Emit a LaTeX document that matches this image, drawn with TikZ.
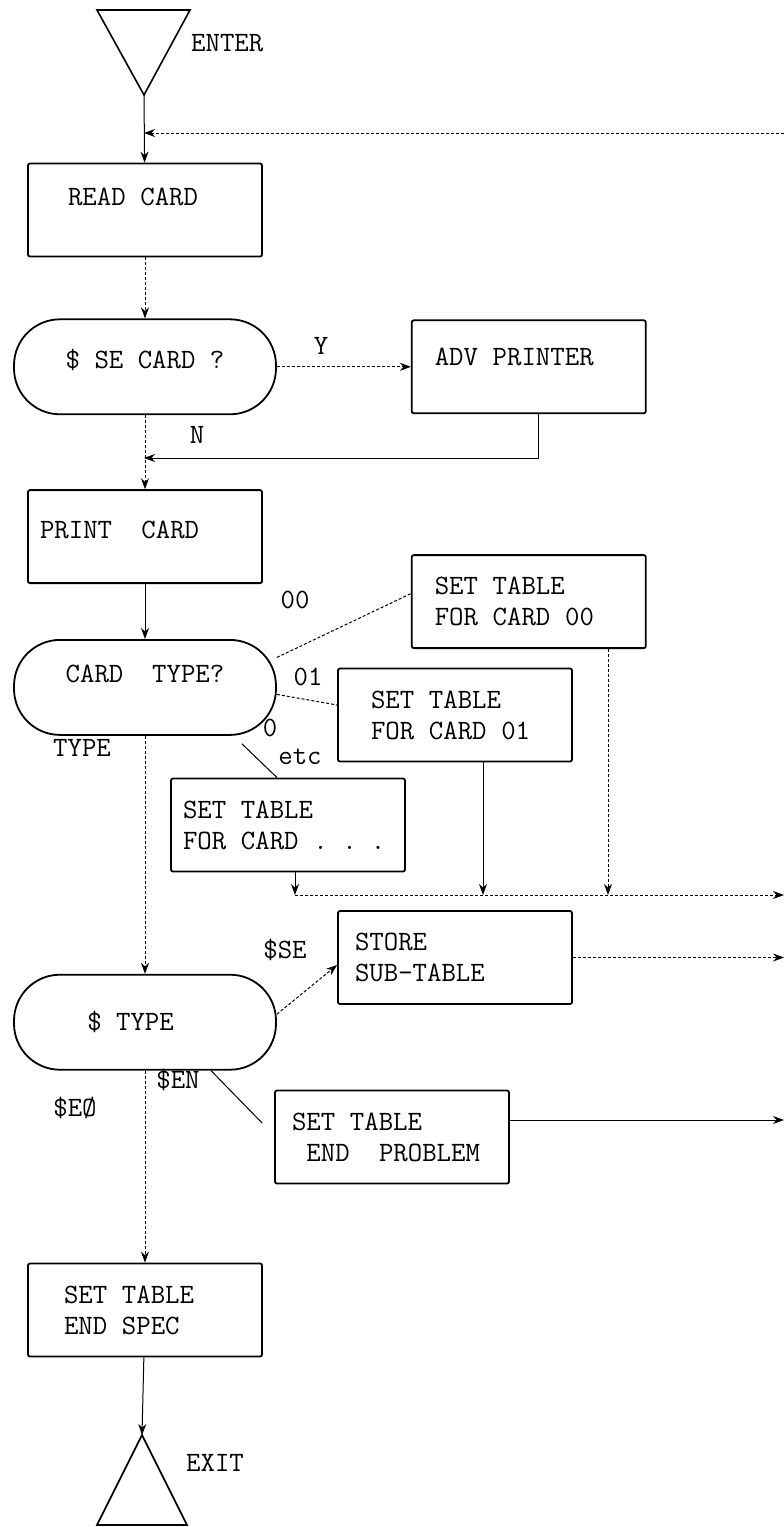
\documentclass[tikz,border=0pt]{standalone}
\usepackage{fontspec}
\usetikzlibrary{positioning, arrows.meta}

\begin{document}
\begin{tikzpicture}[x=1pt, y=-1pt, >={Stealth[length=11pt, width=8pt]},
	every node/.style={font=\ttfamily\fontsize{28}{31}\selectfont},
	box/.style={draw, line width=1.8pt, rounded corners=2pt, minimum height=93pt, align=left, inner xsep=#1, text width=234pt-2*#1, execute at begin node={\spaceskip=0.525em\relax}},
	box/.default=20pt,
	stadium/.style={draw, line width=1.8pt, rounded corners=46pt, minimum width=262pt, minimum height=95pt},
	flow/.style={line width=1pt},
	faint/.style={line width=1pt, densely dashed},
	tag/.style={inner sep=0pt}]

	\useasboundingbox (0,0) rectangle (784,1527);

	\draw[line width=1.6pt] (97,10) -- (190,10) -- (144,95) coordinate (enter) -- cycle;
	\node[tag, anchor=west] (entertxt) at (191,43) {ENTER};

	\node[box=40pt, text depth=26pt] (read) at (145,210) {READ CARD};
	\node[stadium, text depth=16pt, below=61pt of read] (secard) {\$ SE CARD ?};
	\node[box=23pt, text depth=20pt, right=134pt of secard] (adv) {ADV PRINTER};
	\node[box=12pt, text depth=14pt, below=74pt of secard] (print) {PRINT\ \ CARD};
	\node[stadium, text depth=28pt, below=55pt of print] (cardtype) {CARD\ \ TYPE?};
	\node[box=23pt, below=140pt of adv] (set00) {SET TABLE\\FOR CARD 00};
	\node[box=33pt] (set01) at (455,715) {SET TABLE\\FOR CARD 01};
	\node[box=12pt] (setetc) at (288,825) {SET TABLE\\FOR CARD . . .};
	\node[stadium, below=238pt of cardtype] (dtype) {\$ TYPE\hphantom{XX}};
	\node[box=17pt] (store) at (455,957.5) {STORE\\SUB-TABLE};
	\node[box=17pt] (endprob) at (392,1137) {SET TABLE\\\hphantom{E}END\ \ PROBLEM};
	\node[box=36pt, below=192pt of dtype] (endspec) {SET TABLE\\END SPEC};

	\draw[line width=1.6pt] (142,1435) coordinate (exit) -- (187,1525) -- (97,1525) -- cycle;
	\node[tag, anchor=west] (exittxt) at (186,1463) {EXIT};

	\coordinate (loopin) at (784,133);
	\coordinate (join1) at (144,133);
	\coordinate (join2) at (144,458);
	\coordinate (bus1) at (295,895);
	\coordinate (bus2) at (483,895);
	\coordinate (bus3) at (608,895);
	\coordinate (busout) at (784,895);
	\coordinate (storeout) at (784,957.5);
	\coordinate (probout) at (784,1120);

	\path[->]
	(enter) edge[flow] (read)
	(read) edge[faint] (secard)
	(secard) edge[faint] node[pos=0.33, above=8pt] (ytxt) {Y} (adv)
	(secard) edge[faint] (print)
	(print) edge[flow] (cardtype)
	(cardtype) edge[faint] (dtype)
	(dtype) edge[faint] (endspec)
	(endspec) edge[flow] (exit);

	\draw[faint, ->] (loopin) -- (join1);
	\draw[flow, ->] ([xshift=10pt]adv.south) |- (join2);
	\node[tag] (ntxt) at (197,435) {N};

	\draw[faint] ([yshift=30pt]cardtype.east) -- ([yshift=8pt]set00.west);
	\draw[faint] ([yshift=-7pt]cardtype.east) -- ([yshift=10pt]set01.west);
	\draw[flow] ([xshift=-35pt, yshift=-8pt]cardtype.south east) -- ([xshift=-11pt]setetc.north);
	\node[tag] (t00) at (295,600) {00};
	\node[tag] (t01) at (308,677) {01};
	\node[tag] (t0) at (270,728) {0};
	\node[tag] (tetc) at (300,757) {etc};
	\node[tag] (ttype) at (82,748) {TYPE};

	\draw[flow, ->] (setetc.south -| bus1) -- (bus1);
	\draw[flow, ->] (set01.south -| bus2) -- (bus2);
	\draw[faint, ->] (set00.south -| bus3) -- (bus3);
	\draw[faint, ->] (bus1) -- (busout);

	\draw[faint, ->] ([yshift=8pt]dtype.east) -- ([yshift=-7.5pt]store.west);
	\draw[faint, ->] (store.east) -- (storeout);
	\draw[flow] ([xshift=66pt]dtype.south) -- ([xshift=-12pt, yshift=14pt]endprob.west);
	\draw[flow, ->] ([yshift=17pt]endprob.east) -- (probout);
	\node[tag] (tse) at (285,950) {\$SE};
	\node[tag] (ten) at (178,1080) {\$EN};
	\node[tag] (teo) at (75,1108) {\$EØ};

\end{tikzpicture}
\end{document}
